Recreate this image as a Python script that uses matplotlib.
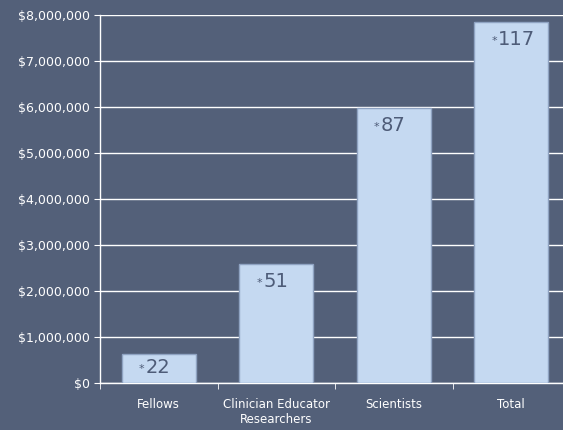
import matplotlib
matplotlib.use("Agg")
import matplotlib.pyplot as plt
from matplotlib.ticker import FuncFormatter, FixedLocator, NullFormatter

categories = ["Fellows", "Clinician Educator\nResearchers", "Scientists", "Total"]
values = [630000, 2590000, 5980000, 7850000]
counts = ["22", "51", "87", "117"]

bg = "#536079"
bar_color = "#C5D9F1"
bar_edge = "#8FA3C2"
label_color = "#4E5C78"

fig = plt.figure(figsize=(5.63, 4.30), dpi=100, facecolor=bg)
ax = fig.add_axes([100/563, (430-383)/430, 470/563, 368/430])
ax.set_facecolor(bg)

x = list(range(len(categories)))
ax.bar(x, values, width=0.63, color=bar_color, edgecolor=bar_edge, linewidth=1, zorder=3)

ax.set_xlim(-0.5, 3.5)
ax.set_ylim(0, 8000000)
ax.set_yticks(range(0, 8000001, 1000000))
ax.yaxis.set_major_formatter(FuncFormatter(lambda v, p: f"${v:,.0f}"))
ax.grid(axis="y", color="white", linewidth=1, zorder=0)
ax.set_axisbelow(True)

ax.set_xticks(x)
ax.set_xticklabels(categories)
ax.xaxis.set_minor_locator(FixedLocator([-0.5, 0.5, 1.5, 2.5, 3.5]))
ax.xaxis.set_minor_formatter(NullFormatter())
ax.tick_params(axis="x", which="major", length=0, pad=11, labelsize=8.5, colors="white")
ax.tick_params(axis="x", which="minor", length=4, color="white", direction="out")
ax.tick_params(axis="y", length=4, color="white", labelsize=9, labelcolor="white")

for s in ["top", "right"]:
    ax.spines[s].set_visible(False)
for s in ["left", "bottom"]:
    ax.spines[s].set_color("white")
    ax.spines[s].set_linewidth(1)

fig.canvas.draw()
for xi, v, c in zip(x, values, counts):
    h_px = ax.transData.transform((0, v))[1] - ax.transData.transform((0, 0))[1]
    gap = min(11, h_px - 22)
    off = -(gap - 3)
    ax.annotate(c, (xi, v), xytext=(-13, off), textcoords="offset pixels",
                ha="left", va="top", fontsize=14, color=label_color, zorder=4)
    ax.annotate("*", (xi, v), xytext=(-14, off - 6), textcoords="offset pixels",
                ha="right", va="top", fontsize=8, color=label_color, zorder=4)

fig.savefig("out.png", dpi=100, facecolor=bg)
